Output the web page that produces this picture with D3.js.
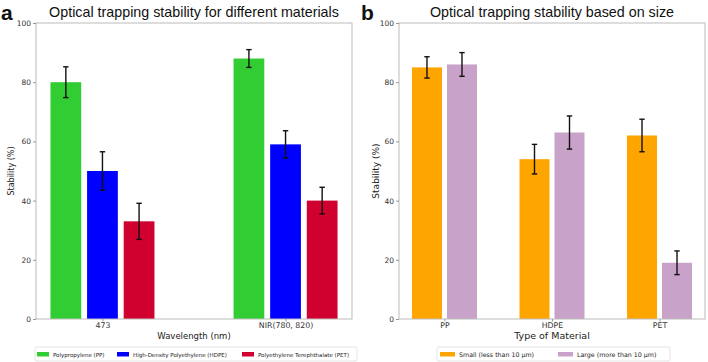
<!DOCTYPE html>
<html>
<head>
<meta charset="utf-8">
<script src="https://cdn.jsdelivr.net/npm/d3@7"></script>
<style>
  body { margin: 0; background: #fff; }
  svg { display: block; }
  .tick text { fill: #333; font-family: "DejaVu Sans", sans-serif; }
  .title { font-family: "Liberation Sans", Arial, sans-serif; fill: #111; }
  .lbl { font-family: "DejaVu Sans", sans-serif; fill: #222; }
</style>
</head>
<body>
<script>
// panel a data
var wavelengths = ["473", "NIR(780, 820)"];
var materialsA = ["Polypropylene (PP)", "High-Density Polyethylene (HDPE)", "Polyethylene Terephthalate (PET)"];
var colorsA = ["#32cd32", "#0000ff", "#d0002f"];
var valuesA = [[80, 88], [50, 59], [33, 40]];   // per material, per wavelength
var errorsA = [[5.2, 3], [6.5, 4.6], [6.1, 4.5]];

// panel b data
var materialsB = ["PP", "HDPE", "PET"];
var sizes = ["Small (less than 10 \u00b5m)", "Large (more than 10 \u00b5m)"];
var colorsB = ["#ffa500", "#c8a2c8"];
var valuesB = [[85, 54, 62], [86, 63, 19]];
var errorsB = [[3.6, 5, 5.5], [4, 5.6, 4]];

var yTicks = [0, 20, 40, 60, 80, 100];

var svg = d3.select("body").append("svg")
  .attr("width", 708)
  .attr("height", 362);

function drawPanel(opt) {
  var g = svg.append("g");

  var x = d3.scalePoint()
    .domain(opt.groups)
    .range([opt.left, opt.right])
    .padding(opt.pad);

  var inner = d3.scaleBand()
    .domain(d3.range(opt.series.length))
    .range([-opt.half, opt.half])
    .paddingInner(opt.gap);

  var y = d3.scaleLinear().domain([0, 100]).range([319, 23]);

  // bars + error bars
  opt.series.forEach(function (s, si) {
    var rows = opt.groups.map(function (grp, gi) {
      return { grp: grp, v: opt.values[si][gi], e: opt.errors[si][gi] };
    });
    g.selectAll(null)
      .data(rows)
      .enter()
      .append("rect")
      .attr("x", d => x(d.grp) + inner(si))
      .attr("width", inner.bandwidth())
      .attr("y", d => y(d.v))
      .attr("height", d => y(0) - y(d.v))
      .attr("fill", opt.colors[si]);

    var eb = g.selectAll(null)
      .data(rows)
      .enter()
      .append("g")
      .attr("stroke", "#111")
      .attr("stroke-width", 1.4);
    var cx = d => x(d.grp) + inner(si) + inner.bandwidth() / 2;
    eb.append("line")
      .attr("x1", cx).attr("x2", cx)
      .attr("y1", d => y(d.v + d.e)).attr("y2", d => y(d.v - d.e));
    eb.append("line")
      .attr("x1", d => cx(d) - 2.7).attr("x2", d => cx(d) + 2.7)
      .attr("y1", d => y(d.v + d.e)).attr("y2", d => y(d.v + d.e));
    eb.append("line")
      .attr("x1", d => cx(d) - 2.7).attr("x2", d => cx(d) + 2.7)
      .attr("y1", d => y(d.v - d.e)).attr("y2", d => y(d.v - d.e));
  });

  // frame
  g.append("rect")
    .attr("x", opt.left).attr("y", 23)
    .attr("width", opt.right - opt.left).attr("height", 296)
    .attr("fill", "none")
    .attr("stroke", "#bbb")
    .attr("stroke-width", 1);

  // y axis
  var ya = g.append("g")
    .attr("transform", "translate(" + opt.left + ",0)")
    .call(d3.axisLeft(y).tickValues(yTicks).tickSize(3).tickPadding(2));
  ya.select(".domain").remove();
  ya.selectAll(".tick line").attr("stroke", "#999");
  ya.selectAll(".tick text").style("font-size", opt.tickFont + "px");

  // x axis
  var xa = g.append("g")
    .attr("transform", "translate(0,319)")
    .call(d3.axisBottom(x).tickSize(2.5).tickPadding(0.5));
  xa.select(".domain").remove();
  xa.selectAll(".tick line").attr("stroke", "#999");
  xa.selectAll(".tick text").style("font-size", "7.8px");

  // titles and labels
  g.append("text")
    .attr("class", "title")
    .attr("x", (opt.left + opt.right) / 2)
    .attr("y", 17)
    .attr("text-anchor", "middle")
    .style("font-size", "14.3px")
    .text(opt.title);

  g.append("text")
    .attr("class", "title")
    .attr("x", opt.letterX)
    .attr("y", 20)
    .style("font-size", "21px")
    .style("font-weight", "bold")
    .text(opt.letter);

  g.append("text")
    .attr("class", "lbl")
    .attr("x", (opt.left + opt.right) / 2)
    .attr("y", 338.5)
    .attr("text-anchor", "middle")
    .style("font-size", opt.xFont + "px")
    .text(opt.xLabel);

  g.append("text")
    .attr("class", "lbl")
    .attr("transform", "translate(" + opt.yLabelX + ",171) rotate(-90)")
    .attr("text-anchor", "middle")
    .style("font-size", opt.yFont + "px")
    .text("Stability (%)");

  // legend
  var lg = g.append("g");
  lg.append("rect")
    .attr("x", opt.legend.x).attr("y", 347)
    .attr("width", opt.legend.w).attr("height", 14)
    .attr("rx", 2)
    .attr("fill", "#fff")
    .attr("stroke", "#e4e4e4");
  opt.series.forEach(function (s, si) {
    var lx = opt.legend.items[si];
    lg.append("rect")
      .attr("x", lx).attr("y", 352)
      .attr("width", opt.legend.patch).attr("height", 4.5)
      .attr("fill", opt.colors[si]);
    lg.append("text")
      .attr("class", "lbl")
      .attr("x", lx + opt.legend.patch + 4)
      .attr("y", 356.5)
      .style("font-size", opt.legend.font + "px")
      .text(s);
  });
}

drawPanel({
  groups: wavelengths, series: materialsA, colors: colorsA,
  values: valuesA, errors: errorsA,
  left: 36, right: 352, pad: 0.363, half: 52, gap: 0.16,
  title: "Optical trapping stability for different materials",
  letter: "a", letterX: 1,
  xLabel: "Wavelength (nm)", xFont: 8.5, yFont: 8, yLabelX: 14, tickFont: 7.5,
  legend: { x: 35, w: 322, items: [37, 117, 242], patch: 12, font: 5.5 }
});

drawPanel({
  groups: materialsB, series: sizes, colors: colorsB,
  values: valuesB, errors: errorsB,
  left: 399, right: 705, pad: 0.423, half: 32.5, gap: 0.143,
  title: "Optical trapping stability based on size",
  letter: "b", letterX: 361,
  xLabel: "Type of Material", xFont: 9.5, yFont: 9, yLabelX: 379, tickFont: 7.5,
  legend: { x: 437, w: 233, items: [440, 558], patch: 15, font: 6.3 }
});
</script>
</body>
</html>
